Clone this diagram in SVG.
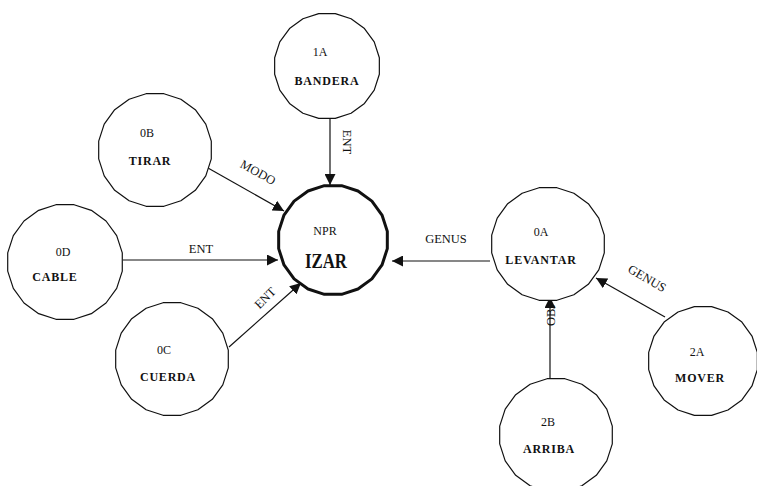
<svg xmlns="http://www.w3.org/2000/svg" width="757" height="486" viewBox="0 0 757 486">
  <style>
    .node { fill: #ffffff; stroke: #111; stroke-width: 1.2; stroke-linejoin: round; }
    .main { fill: #ffffff; stroke: #111; stroke-width: 3; stroke-linejoin: round; }
    .code { font-family: "Liberation Serif", serif; font-size: 12px; fill: #111; text-anchor: middle; }
    .name { font-family: "Liberation Serif", serif; font-size: 12px; font-weight: bold; fill: #111; text-anchor: middle; letter-spacing: 0.8px; }
    .big { font-family: "Liberation Serif", serif; font-size: 22px; font-weight: bold; fill: #111; text-anchor: middle; }
    .lbl { font-family: "Liberation Serif", serif; font-size: 12.5px; fill: #111; text-anchor: middle; }
    .edge { stroke: #111; stroke-width: 1.2; fill: none; marker-end: url(#arr); }
  </style>
  <defs>
    <marker id="arr" viewBox="0 0 10 10" refX="10" refY="5" markerWidth="11" markerHeight="11" markerUnits="userSpaceOnUse" orient="auto">
      <path d="M0,0 L10,5 L0,10 Z" fill="#111"/>
    </marker>
    <!-- unit 20-gon used for every node outline -->
    <polygon id="ring" vector-effect="non-scaling-stroke" points="1,0 0.9511,0.309 0.809,0.5878 0.5878,0.809 0.309,0.9511 0,1 -0.309,0.9511 -0.5878,0.809 -0.809,0.5878 -0.9511,0.309 -1,0 -0.9511,-0.309 -0.809,-0.5878 -0.5878,-0.809 -0.309,-0.9511 0,-1 0.309,-0.9511 0.5878,-0.809 0.809,-0.5878 0.9511,-0.309"/>
  </defs>

  <g id="connectors">
    <line class="edge" x1="330" y1="118" x2="330" y2="185"/>
    <text class="lbl" transform="translate(343,142) rotate(90)">ENT</text>
    <line class="edge" x1="208" y1="168" x2="284" y2="211"/>
    <text class="lbl" transform="translate(256,176) rotate(29)">MODO</text>
    <line class="edge" x1="123" y1="260" x2="278" y2="260"/>
    <text class="lbl" x="201" y="253">ENT</text>
    <line class="edge" x1="229" y1="347" x2="301" y2="283"/>
    <text class="lbl" transform="translate(268,301) rotate(-45)">ENT</text>
    <line class="edge" x1="490" y1="261" x2="392" y2="261"/>
    <text class="lbl" x="446" y="243">GENUS</text>
    <line class="edge" x1="665" y1="317" x2="596" y2="278"/>
    <text class="lbl" transform="translate(645,282) rotate(30)">GENUS</text>
    <line class="edge" x1="550" y1="378" x2="550" y2="297"/>
    <text class="lbl" transform="translate(555,315) rotate(-90)">OBJ</text>
  </g>

  <g id="n1A">
    <use href="#ring" class="node" transform="translate(327,66) rotate(9) scale(53)"/>
    <text class="code" x="320" y="56">1A</text>
    <text class="name" x="327" y="85">BANDERA</text>
  </g>
  <g id="n0B">
    <use href="#ring" class="node" transform="translate(155,150) rotate(9) scale(57)"/>
    <text class="code" x="147" y="137">0B</text>
    <text class="name" x="150" y="165">TIRAR</text>
  </g>
  <g id="n0D">
    <use href="#ring" class="node" transform="translate(65,262) rotate(9) scale(58)"/>
    <text class="code" x="63" y="256">0D</text>
    <text class="name" x="55" y="281">CABLE</text>
  </g>
  <g id="n0C">
    <use href="#ring" class="node" transform="translate(172,359) rotate(9) scale(57)"/>
    <text class="code" x="164" y="354">0C</text>
    <text class="name" x="168" y="381">CUERDA</text>
  </g>
  <g id="nIZAR">
    <use href="#ring" class="main" transform="translate(333,240) rotate(9) scale(55)"/>
    <text class="code" x="325" y="235">NPR</text>
    <text class="big" x="326" y="268" textLength="42" lengthAdjust="spacingAndGlyphs">IZAR</text>
  </g>
  <g id="n0A">
    <use href="#ring" class="node" transform="translate(548,244) rotate(9) scale(57)"/>
    <text class="code" x="541" y="236">0A</text>
    <text class="name" x="541" y="264">LEVANTAR</text>
  </g>
  <g id="n2A">
    <use href="#ring" class="node" transform="translate(703,361) rotate(9) scale(55)"/>
    <text class="code" x="697" y="356">2A</text>
    <text class="name" x="700" y="382">MOVER</text>
  </g>
  <g id="n2B">
    <use href="#ring" class="node" transform="translate(556,435) rotate(9) scale(57)"/>
    <text class="code" x="548" y="426">2B</text>
    <text class="name" x="549" y="453">ARRIBA</text>
  </g>
</svg>
